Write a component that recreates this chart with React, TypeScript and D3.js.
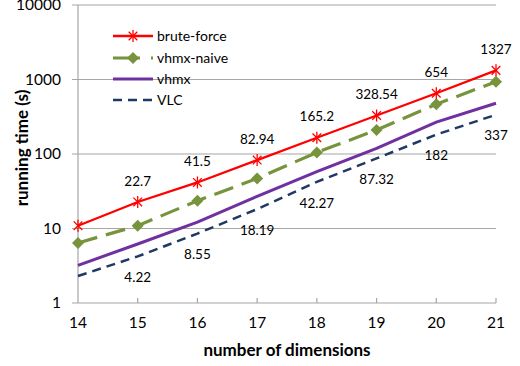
import React from "react";
import * as d3 from "d3";

const dims = [14, 15, 16, 17, 18, 19, 20, 21];
const bruteForce = [10.9, 22.7, 41.5, 82.94, 165.2, 328.54, 654, 1327];
const vhmxNaive = [6.4, 10.9, 23.6, 47, 105, 210, 465, 935];
const vhmx = [3.2, 6.2, 12.2, 27, 58, 119, 268, 480];
const vlc = [2.3, 4.22, 8.55, 18.19, 42.27, 87.32, 182, 337];
const bruteLabels = ["", "22.7", "41.5", "82.94", "165.2", "328.54", "654", "1327"];
const vlcLabels = ["", "4.22", "8.55", "18.19", "42.27", "87.32", "182", "337"];
const yTicks = [1, 10, 100, 1000, 10000];

const FONT = "Lato, 'Open Sans', sans-serif";

export default function App() {
  const W = 520, H = 366;
  const x = d3.scalePoint<number>().domain(dims).range([78, 496]);
  const y = d3.scaleLog().domain([1, 10000]).range([303, 5]);
  const line = d3.line<number>().x((_, i) => x(dims[i])!).y((v) => y(v));

  const star = (cx: number, cy: number, k: string) => {
    const r = 6;
    const d = r * 0.72;
    return (
      <g key={k} stroke="#FF0000" strokeWidth={1.3}>
        <line x1={cx} y1={cy - r} x2={cx} y2={cy + r} />
        <line x1={cx - d} y1={cy - d} x2={cx + d} y2={cy + d} />
        <line x1={cx - d} y1={cy + d} x2={cx + d} y2={cy - d} />
      </g>
    );
  };
  const diamond = (cx: number, cy: number, k: string) => (
    <path key={k} d={`M${cx},${cy - 6}L${cx + 6},${cy}L${cx},${cy + 6}L${cx - 6},${cy}Z`} fill="#77933C" />
  );

  const legendY = [36, 58, 79, 100];

  return (
    <svg width={W} height={H} style={{ position: "absolute", left: 0, top: 0, background: "#fff" }}>
      {yTicks.slice(1).map((t) => (
        <line key={"g" + t} x1={72} x2={496} y1={y(t)} y2={y(t)} stroke="#A6A6A6" strokeWidth={1.2} />
      ))}
      <line x1={78} x2={78} y1={y(10000)} y2={303} stroke="#A6A6A6" strokeWidth={1.2} />
      <line x1={72} x2={496} y1={303} y2={303} stroke="#A6A6A6" strokeWidth={1.2} />
      {dims.slice(1).map((d) => (
        <line key={"t" + d} x1={x(d)} x2={x(d)} y1={298} y2={303} stroke="#A6A6A6" strokeWidth={1.2} />
      ))}
      {yTicks.map((t) => (
        <text key={"yl" + t} x={61} y={y(t)} dy="0.35em" textAnchor="end" fontFamily={FONT} fontSize={15.5} fill="#000">
          {t}
        </text>
      ))}
      {dims.map((d) => (
        <text key={"xl" + d} x={x(d)} y={323} dy="0.35em" textAnchor="middle" fontFamily={FONT} fontSize={15.5} fill="#000">
          {d}
        </text>
      ))}
      <text x={287} y={350} dy="0.35em" textAnchor="middle" fontFamily={FONT} fontSize={17} fontWeight="bold" fill="#000">
        number of dimensions
      </text>
      <text transform="translate(22,148) rotate(-90)" dy="0.35em" textAnchor="middle" fontFamily={FONT} fontSize={17} fontWeight="bold" fill="#000">
        running time (s)
      </text>

      <path d={line(vlc)!} fill="none" stroke="#1F3864" strokeWidth={2.5} strokeDasharray="9,6" />
      <path d={line(vhmx)!} fill="none" stroke="#7030A0" strokeWidth={3} />
      <path d={line(vhmxNaive)!} fill="none" stroke="#77933C" strokeWidth={3.2} strokeDasharray="20,9" />
      {vhmxNaive.map((v, i) => diamond(x(dims[i])!, y(v), "dm" + i))}
      <path d={line(bruteForce)!} fill="none" stroke="#FF0000" strokeWidth={2.3} />
      {bruteForce.map((v, i) => star(x(dims[i])!, y(v), "st" + i))}

      {bruteLabels.map((l, i) =>
        l ? (
          <text key={"bl" + i} x={x(dims[i])} y={y(bruteForce[i]) - 21} dy="0.35em" textAnchor="middle" fontFamily={FONT} fontSize={13.5} fill="#000">
            {l}
          </text>
        ) : null
      )}
      {vlcLabels.map((l, i) =>
        l ? (
          <text key={"vl" + i} x={x(dims[i])} y={y(vlc[i]) + 21} dy="0.35em" textAnchor="middle" fontFamily={FONT} fontSize={13.5} fill="#000">
            {l}
          </text>
        ) : null
      )}

      <g fontFamily={FONT} fontSize={14} fill="#000">
        <line x1={113} x2={153} y1={legendY[0]} y2={legendY[0]} stroke="#FF0000" strokeWidth={2.3} />
        {star(133, legendY[0], "ls")}
        <text x={157} y={legendY[0]} dy="0.35em">brute-force</text>
        <line x1={113} x2={153} y1={legendY[1]} y2={legendY[1]} stroke="#77933C" strokeWidth={3.2} strokeDasharray="27,11" />
        {diamond(133, legendY[1], "ld")}
        <text x={157} y={legendY[1]} dy="0.35em">vhmx-naive</text>
        <line x1={113} x2={153} y1={legendY[2]} y2={legendY[2]} stroke="#7030A0" strokeWidth={3} />
        <text x={157} y={legendY[2]} dy="0.35em">vhmx</text>
        <line x1={113} x2={153} y1={legendY[3]} y2={legendY[3]} stroke="#1F3864" strokeWidth={2.5} strokeDasharray="9,6" />
        <text x={157} y={legendY[3]} dy="0.35em">VLC</text>
      </g>
    </svg>
  );
}
